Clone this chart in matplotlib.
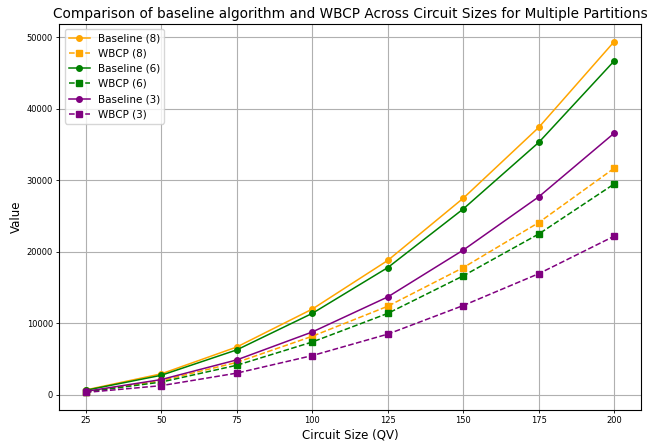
import matplotlib
matplotlib.use("Agg")
import matplotlib.pyplot as plt

# circuit sizes
sizes = [25, 50, 75, 100, 125, 150, 175, 200]

baseline_8 = [700, 2950, 6700, 12000, 18800, 27500, 37400, 49400]
wbcp_8 = [450, 2000, 4550, 8200, 12400, 17800, 24100, 31700]
baseline_6 = [650, 2750, 6300, 11400, 17800, 26000, 35300, 46700]
wbcp_6 = [420, 1800, 4150, 7400, 11400, 16650, 22500, 29500]
baseline_3 = [500, 2150, 4900, 8800, 13700, 20250, 27700, 36600]
wbcp_3 = [350, 1300, 3050, 5500, 8500, 12500, 16950, 22200]

fig = plt.figure(figsize=(6.64, 4.41), dpi=100)
ax = fig.add_axes([0.0893, 0.0703, 0.8756, 0.8753])

series = [
    ("Baseline (8)", baseline_8, "orange", "-", "o"),
    ("WBCP (8)", wbcp_8, "orange", "--", "s"),
    ("Baseline (6)", baseline_6, "green", "-", "o"),
    ("WBCP (6)", wbcp_6, "green", "--", "s"),
    ("Baseline (3)", baseline_3, "purple", "-", "o"),
    ("WBCP (3)", wbcp_3, "purple", "--", "s"),
]
for label, vals, col, ls, mk in series:
    ax.plot(sizes, vals, color=col, linestyle=ls, marker=mk, markersize=4,
            linewidth=1.1, label=label)

ax.set_title("Comparison of baseline algorithm and WBCP Across Circuit Sizes for Multiple Partitions",
             fontsize=9.8, pad=4)
ax.set_xlabel("Circuit Size (QV)", fontsize=8.5, labelpad=2)
ax.set_ylabel("Value", fontsize=8.5, labelpad=3)
ax.set_xticks(sizes)
ax.tick_params(labelsize=6, length=2.5, width=0.6, pad=2)
ax.grid(True)
ax.legend(loc="upper left", fontsize=7.5)

fig.savefig("out.png", dpi=100)
